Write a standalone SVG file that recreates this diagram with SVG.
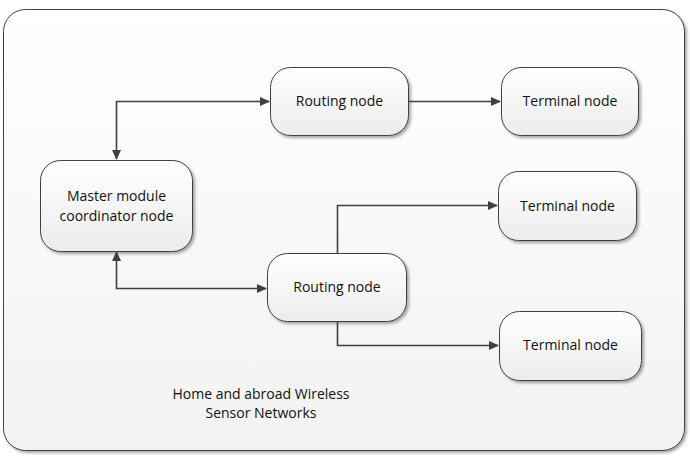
<svg xmlns="http://www.w3.org/2000/svg" width="690" height="458" viewBox="0 0 690 458">
<defs>
<linearGradient id="g" x1="0" y1="0" x2="0" y2="1">
<stop offset="0" stop-color="#ffffff"/>
<stop offset="1" stop-color="#ececec"/>
</linearGradient>
<linearGradient id="gb" x1="0" y1="0" x2="0" y2="1">
<stop offset="0" stop-color="#ffffff"/>
<stop offset="1" stop-color="#f2f2f2"/>
</linearGradient>
<filter id="sh" x="-10%" y="-10%" width="130%" height="130%">
<feGaussianBlur in="SourceAlpha" stdDeviation="1.5"/>
<feOffset dx="1.5" dy="1.5" result="b"/>
<feComponentTransfer><feFuncA type="linear" slope="0.35"/></feComponentTransfer>
<feMerge><feMergeNode/><feMergeNode in="SourceGraphic"/></feMerge>
</filter>
<marker id="ar" markerWidth="10" markerHeight="10" refX="9" refY="5" orient="auto-start-reverse" markerUnits="userSpaceOnUse">
<path d="M0,0.5 L10,5 L0,9.5 Z" fill="#404040"/>
</marker>
</defs>
<style>
.box{fill:url(#g);stroke:#404040;stroke-width:1;filter:url(#sh)}
.t{font-family:"Open Sans","Liberation Sans",sans-serif;font-size:14px;fill:#111;text-anchor:middle}
.c{fill:none;stroke:#404040;stroke-width:1.6}
</style>
<rect x="3.5" y="9.5" width="681" height="441" rx="22" fill="url(#gb)" stroke="#404040" stroke-width="1" filter="url(#sh)"/>
<g id="routing1"><rect class="box" x="270.5" y="67.5" width="138" height="68" rx="20"/><text class="t" x="339.5" y="106">Routing node</text></g>
<g id="terminal1"><rect class="box" x="501.5" y="67.5" width="137" height="68" rx="20"/><text class="t" x="570" y="106">Terminal node</text></g>
<g id="master"><rect class="box" x="40.5" y="160.5" width="152" height="91" rx="20"/><text class="t" x="116.5" y="201">Master module</text><text class="t" x="116.5" y="221">coordinator node</text></g>
<g id="terminal2"><rect class="box" x="498.5" y="171.5" width="138" height="69" rx="20"/><text class="t" x="567.5" y="211">Terminal node</text></g>
<g id="routing2"><rect class="box" x="267.5" y="253.5" width="139" height="68" rx="20"/><text class="t" x="337" y="292">Routing node</text></g>
<g id="terminal3"><rect class="box" x="499.5" y="311.5" width="142" height="69" rx="20"/><text class="t" x="570.5" y="350">Terminal node</text></g>
<g id="label"><text class="t" x="261" y="399">Home and abroad Wireless</text><text class="t" x="261" y="418">Sensor Networks</text></g>
<g id="connectors">
<path class="c" d="M116.5,159 V101.5 H269" marker-start="url(#ar)" marker-end="url(#ar)"/>
<path class="c" d="M408.5,101.5 H500" marker-end="url(#ar)"/>
<path class="c" d="M116.5,252 V288.5 H266" marker-start="url(#ar)" marker-end="url(#ar)"/>
<path class="c" d="M337.5,253 V205.5 H497" marker-end="url(#ar)"/>
<path class="c" d="M337.5,322 V345.5 H498" marker-end="url(#ar)"/>
</g>
</svg>
